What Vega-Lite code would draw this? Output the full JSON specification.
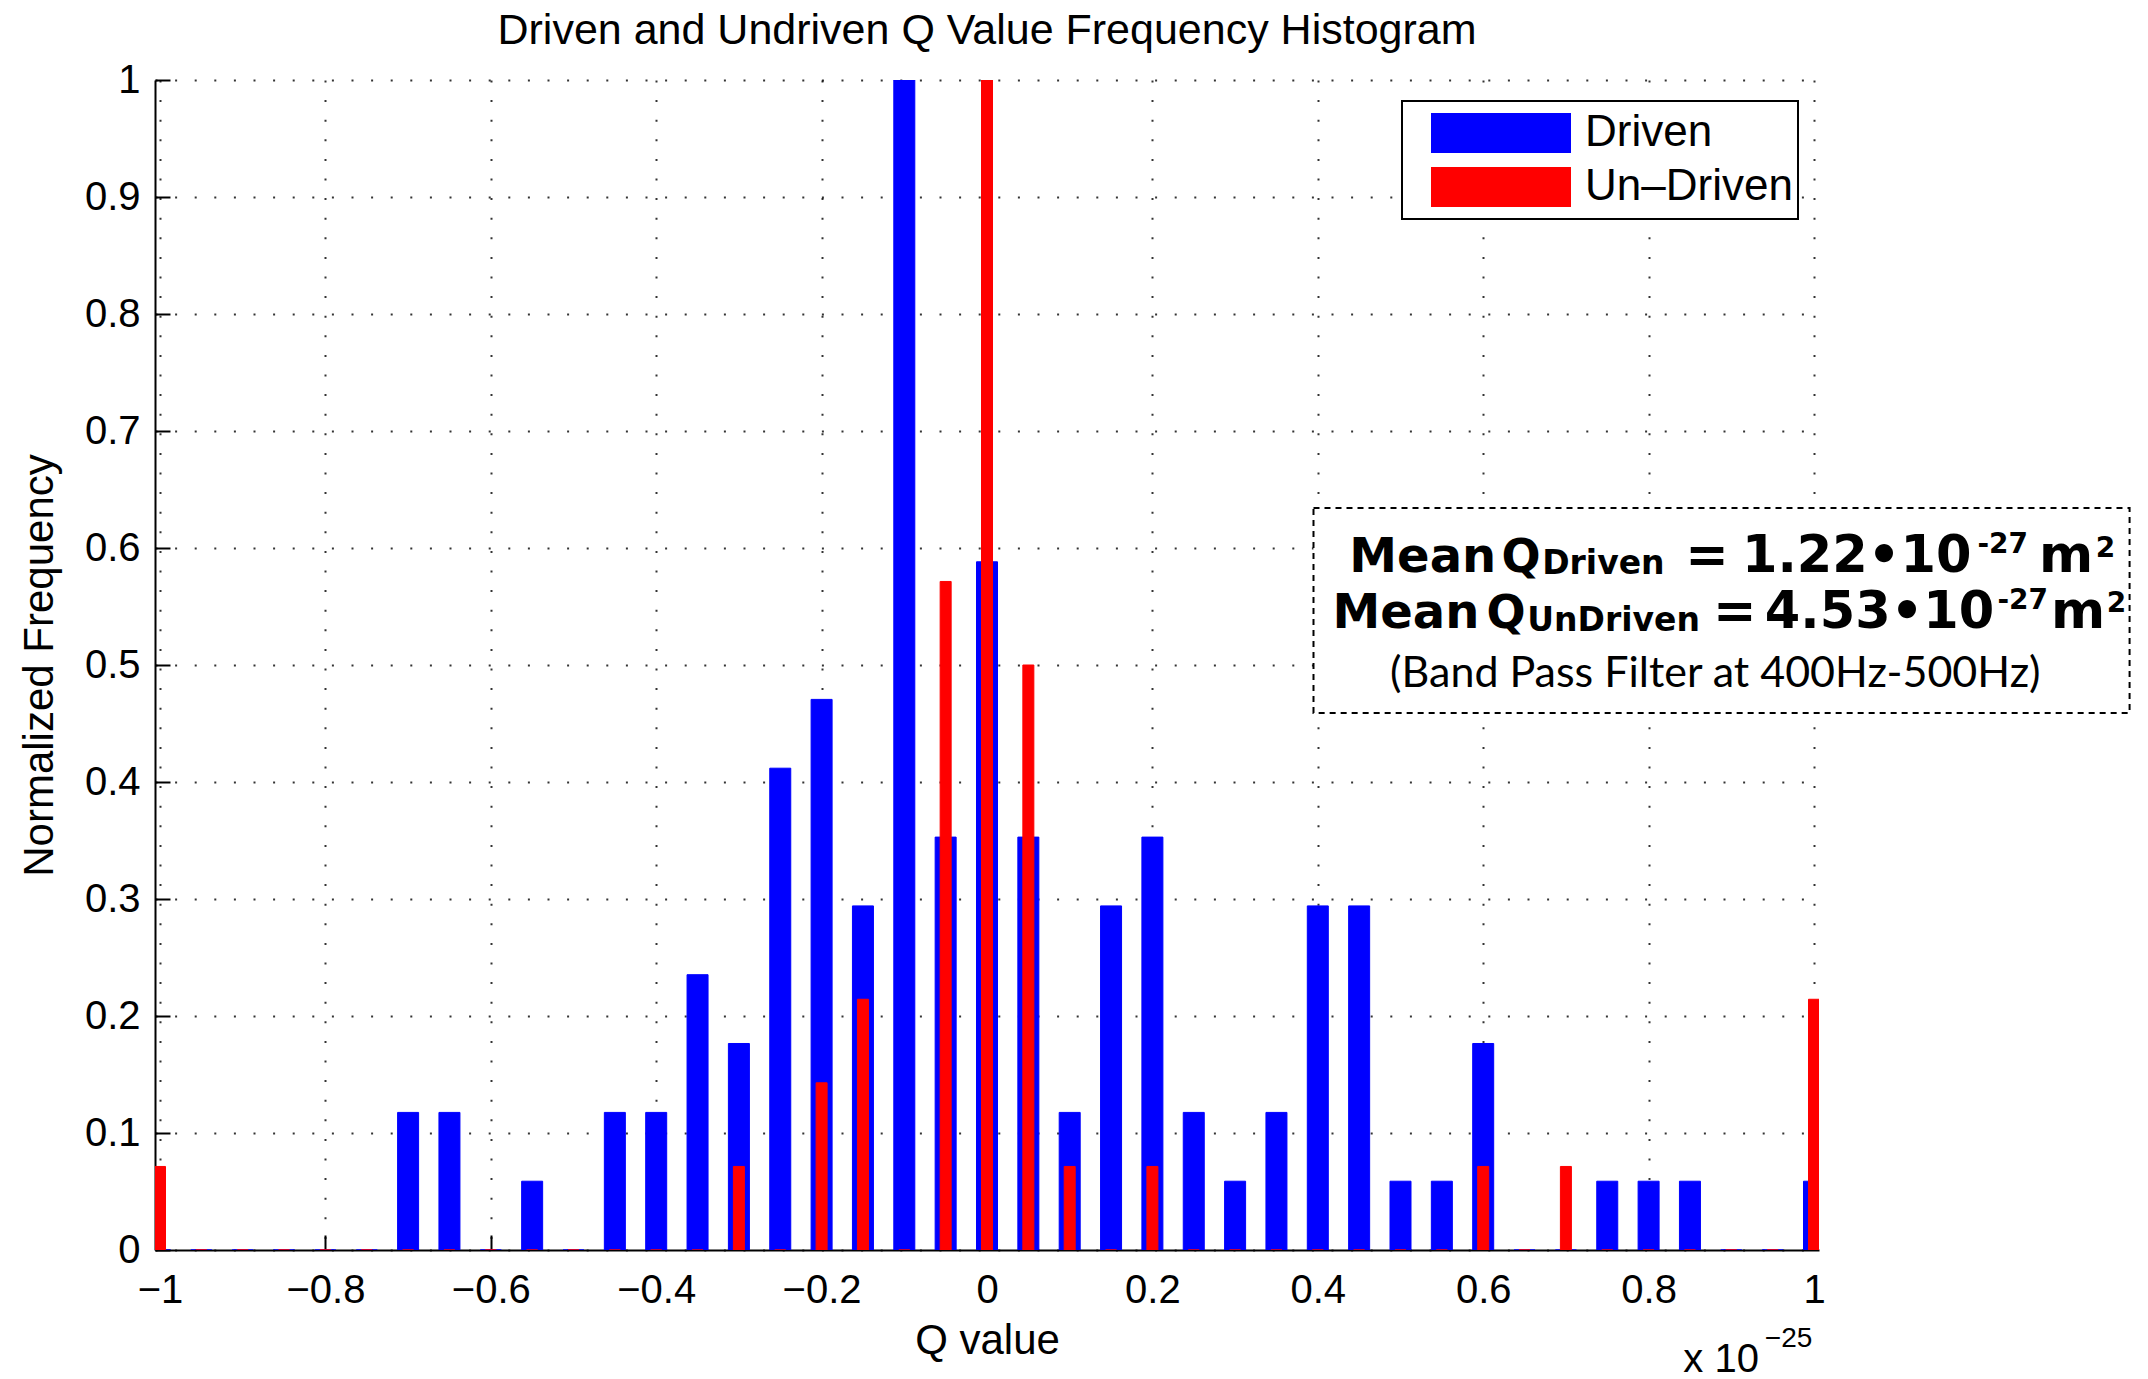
{
  "$schema": "https://vega.github.io/schema/vega-lite/v6.json",
  "width": 1664,
  "height": 1170,
  "autosize": {"type": "none"},
  "padding": {"left": 155, "top": 80, "right": 329, "bottom": 129},
  "background": "white",
  "title": {"text": "Driven and Undriven Q Value Frequency Histogram", "font": "Liberation Sans", "fontSize": 43, "fontWeight": "normal", "color": "black", "anchor": "middle", "frame": "group", "offset": 7},
  "datasets": {
    "hist": [
    {"q": -1, "series": "Driven", "freq": 0}, {"q": -0.95, "series": "Driven", "freq": 0}, {"q": -0.9, "series": "Driven", "freq": 0}, {"q": -0.85, "series": "Driven", "freq": 0},
    {"q": -0.8, "series": "Driven", "freq": 0}, {"q": -0.75, "series": "Driven", "freq": 0}, {"q": -0.7, "series": "Driven", "freq": 0.1176}, {"q": -0.65, "series": "Driven", "freq": 0.1176},
    {"q": -0.6, "series": "Driven", "freq": 0}, {"q": -0.55, "series": "Driven", "freq": 0.0588}, {"q": -0.5, "series": "Driven", "freq": 0}, {"q": -0.45, "series": "Driven", "freq": 0.1176},
    {"q": -0.4, "series": "Driven", "freq": 0.1176}, {"q": -0.35, "series": "Driven", "freq": 0.2353}, {"q": -0.3, "series": "Driven", "freq": 0.1765}, {"q": -0.25, "series": "Driven", "freq": 0.4118},
    {"q": -0.2, "series": "Driven", "freq": 0.4706}, {"q": -0.15, "series": "Driven", "freq": 0.2941}, {"q": -0.1, "series": "Driven", "freq": 1}, {"q": -0.05, "series": "Driven", "freq": 0.3529},
    {"q": 0, "series": "Driven", "freq": 0.5882}, {"q": 0.05, "series": "Driven", "freq": 0.3529}, {"q": 0.1, "series": "Driven", "freq": 0.1176}, {"q": 0.15, "series": "Driven", "freq": 0.2941},
    {"q": 0.2, "series": "Driven", "freq": 0.3529}, {"q": 0.25, "series": "Driven", "freq": 0.1176}, {"q": 0.3, "series": "Driven", "freq": 0.0588}, {"q": 0.35, "series": "Driven", "freq": 0.1176},
    {"q": 0.4, "series": "Driven", "freq": 0.2941}, {"q": 0.45, "series": "Driven", "freq": 0.2941}, {"q": 0.5, "series": "Driven", "freq": 0.0588}, {"q": 0.55, "series": "Driven", "freq": 0.0588},
    {"q": 0.6, "series": "Driven", "freq": 0.1765}, {"q": 0.65, "series": "Driven", "freq": 0}, {"q": 0.7, "series": "Driven", "freq": 0}, {"q": 0.75, "series": "Driven", "freq": 0.0588},
    {"q": 0.8, "series": "Driven", "freq": 0.0588}, {"q": 0.85, "series": "Driven", "freq": 0.0588}, {"q": 0.9, "series": "Driven", "freq": 0}, {"q": 0.95, "series": "Driven", "freq": 0},
    {"q": 1, "series": "Driven", "freq": 0.0588},
    {"q": -1, "series": "Un–Driven", "freq": 0.0714}, {"q": -0.95, "series": "Un–Driven", "freq": 0}, {"q": -0.9, "series": "Un–Driven", "freq": 0}, {"q": -0.85, "series": "Un–Driven", "freq": 0},
    {"q": -0.8, "series": "Un–Driven", "freq": 0}, {"q": -0.75, "series": "Un–Driven", "freq": 0}, {"q": -0.7, "series": "Un–Driven", "freq": 0}, {"q": -0.65, "series": "Un–Driven", "freq": 0},
    {"q": -0.6, "series": "Un–Driven", "freq": 0}, {"q": -0.55, "series": "Un–Driven", "freq": 0}, {"q": -0.5, "series": "Un–Driven", "freq": 0}, {"q": -0.45, "series": "Un–Driven", "freq": 0},
    {"q": -0.4, "series": "Un–Driven", "freq": 0}, {"q": -0.35, "series": "Un–Driven", "freq": 0}, {"q": -0.3, "series": "Un–Driven", "freq": 0.0714}, {"q": -0.25, "series": "Un–Driven", "freq": 0},
    {"q": -0.2, "series": "Un–Driven", "freq": 0.1429}, {"q": -0.15, "series": "Un–Driven", "freq": 0.2143}, {"q": -0.1, "series": "Un–Driven", "freq": 0}, {"q": -0.05, "series": "Un–Driven", "freq": 0.5714},
    {"q": 0, "series": "Un–Driven", "freq": 1}, {"q": 0.05, "series": "Un–Driven", "freq": 0.5}, {"q": 0.1, "series": "Un–Driven", "freq": 0.0714}, {"q": 0.15, "series": "Un–Driven", "freq": 0},
    {"q": 0.2, "series": "Un–Driven", "freq": 0.0714}, {"q": 0.25, "series": "Un–Driven", "freq": 0}, {"q": 0.3, "series": "Un–Driven", "freq": 0}, {"q": 0.35, "series": "Un–Driven", "freq": 0},
    {"q": 0.4, "series": "Un–Driven", "freq": 0}, {"q": 0.45, "series": "Un–Driven", "freq": 0}, {"q": 0.5, "series": "Un–Driven", "freq": 0}, {"q": 0.55, "series": "Un–Driven", "freq": 0},
    {"q": 0.6, "series": "Un–Driven", "freq": 0.0714}, {"q": 0.65, "series": "Un–Driven", "freq": 0}, {"q": 0.7, "series": "Un–Driven", "freq": 0.0714}, {"q": 0.75, "series": "Un–Driven", "freq": 0},
    {"q": 0.8, "series": "Un–Driven", "freq": 0}, {"q": 0.85, "series": "Un–Driven", "freq": 0}, {"q": 0.9, "series": "Un–Driven", "freq": 0}, {"q": 0.95, "series": "Un–Driven", "freq": 0},
    {"q": 1, "series": "Un–Driven", "freq": 0.2143}
    ],
    "one": [{"note": 1}]
  },
  "layer": [
    {
      "data": {"name": "hist"},
      "transform": [{"filter": "datum.series === 'Driven'"}],
      "mark": {"type": "bar", "size": 21, "clip": true, "stroke": "#0000ff", "strokeWidth": 1},
      "encoding": {
        "x": {"field": "q", "type": "quantitative", "title": "Q value",
          "scale": {"domain": [-1, 1], "nice": false, "zero": false},
          "axis": {"values": [-1, -0.8, -0.6, -0.4, -0.2, 0, 0.2, 0.4, 0.6, 0.8, 1], "format": "~g", "labelFlush": false, "labelOverlap": false, "labelPadding": 35, "titlePadding": 10, "grid": true}},
        "y": {"field": "freq", "type": "quantitative", "title": "Normalized Frequency",
          "scale": {"domain": [0, 1], "nice": false},
          "axis": {"values": [0, 0.1, 0.2, 0.3, 0.4, 0.5, 0.6, 0.7, 0.8, 0.9, 1], "format": "~g", "labelFlush": false, "labelOverlap": false, "labelPadding": 30, "titlePadding": 23, "grid": true}},
        "color": {"field": "series", "type": "nominal", "title": null,
          "scale": {"domain": ["Driven", "Un–Driven"], "range": ["#0000ff", "#ff0000"]}}
      }
    },
    {
      "data": {"name": "hist"},
      "transform": [{"filter": "datum.series === 'Un–Driven'"}],
      "mark": {"type": "bar", "size": 11, "clip": true, "stroke": "#ff0000", "strokeWidth": 1},
      "encoding": {
        "x": {"field": "q", "type": "quantitative"},
        "y": {"field": "freq", "type": "quantitative"},
        "color": {"field": "series", "type": "nominal", "title": null,
          "scale": {"domain": ["Driven", "Un–Driven"], "range": ["#0000ff", "#ff0000"]}}
      }
    },
    {
      "data": {"name": "one"},
      "mark": {"type": "rect", "fill": "white", "stroke": "black", "strokeWidth": 2, "strokeDash": [6, 5], "clip": false},
      "encoding": {"x": {"datum": 0.3948, "type": "quantitative"}, "x2": {"datum": 1.3816}, "y": {"datum": 0.459, "type": "quantitative"}, "y2": {"datum": 0.6342}}
    },
    {"data": {"name": "one"}, "mark": {"type": "text", "font": "DejaVu Sans", "fontWeight": "bold", "fontSize": 48, "align": "left", "baseline": "alphabetic", "color": "black"},
      "encoding": {"x": {"datum": 0.4381, "type": "quantitative"}, "y": {"datum": 0.5795, "type": "quantitative"}, "text": {"value": "Mean"}}},
    {"data": {"name": "one"}, "mark": {"type": "text", "font": "DejaVu Sans", "fontWeight": "bold", "fontSize": 46, "align": "left", "baseline": "alphabetic", "color": "black"},
      "encoding": {"x": {"datum": 0.622, "type": "quantitative"}, "y": {"datum": 0.5795, "type": "quantitative"}, "text": {"value": "Q"}}},
    {"data": {"name": "one"}, "mark": {"type": "text", "font": "DejaVu Sans", "fontWeight": "bold", "fontSize": 33, "align": "left", "baseline": "alphabetic", "color": "black"},
      "encoding": {"x": {"datum": 0.6713, "type": "quantitative"}, "y": {"datum": 0.5778, "type": "quantitative"}, "text": {"value": "Driven"}}},
    {"data": {"name": "one"}, "mark": {"type": "text", "font": "DejaVu Sans", "fontWeight": "bold", "fontSize": 52, "align": "left", "baseline": "alphabetic", "color": "black"},
      "encoding": {"x": {"datum": 0.8444, "type": "quantitative"}, "y": {"datum": 0.5795, "type": "quantitative"}, "text": {"value": "="}}},
    {"data": {"name": "one"}, "mark": {"type": "text", "font": "DejaVu Sans", "fontWeight": "bold", "fontSize": 51, "align": "left", "baseline": "alphabetic", "color": "black"},
      "encoding": {"x": {"datum": 0.9129, "type": "quantitative"}, "y": {"datum": 0.5795, "type": "quantitative"}, "text": {"value": "1.22•10"}}},
    {"data": {"name": "one"}, "mark": {"type": "text", "font": "DejaVu Sans", "fontWeight": "bold", "fontSize": 28, "align": "left", "baseline": "alphabetic", "color": "black"},
      "encoding": {"x": {"datum": 1.1977, "type": "quantitative"}, "y": {"datum": 0.5957, "type": "quantitative"}, "text": {"value": "-27"}}},
    {"data": {"name": "one"}, "mark": {"type": "text", "font": "DejaVu Sans", "fontWeight": "bold", "fontSize": 52, "align": "left", "baseline": "alphabetic", "color": "black"},
      "encoding": {"x": {"datum": 1.2722, "type": "quantitative"}, "y": {"datum": 0.5795, "type": "quantitative"}, "text": {"value": "m"}}},
    {"data": {"name": "one"}, "mark": {"type": "text", "font": "DejaVu Sans", "fontWeight": "bold", "fontSize": 28, "align": "left", "baseline": "alphabetic", "color": "black"},
      "encoding": {"x": {"datum": 1.3407, "type": "quantitative"}, "y": {"datum": 0.5923, "type": "quantitative"}, "text": {"value": "2"}}},
    {"data": {"name": "one"}, "mark": {"type": "text", "font": "DejaVu Sans", "fontWeight": "bold", "fontSize": 48, "align": "left", "baseline": "alphabetic", "color": "black"},
      "encoding": {"x": {"datum": 0.4177, "type": "quantitative"}, "y": {"datum": 0.5316, "type": "quantitative"}, "text": {"value": "Mean"}}},
    {"data": {"name": "one"}, "mark": {"type": "text", "font": "DejaVu Sans", "fontWeight": "bold", "fontSize": 46, "align": "left", "baseline": "alphabetic", "color": "black"},
      "encoding": {"x": {"datum": 0.604, "type": "quantitative"}, "y": {"datum": 0.5316, "type": "quantitative"}, "text": {"value": "Q"}}},
    {"data": {"name": "one"}, "mark": {"type": "text", "font": "DejaVu Sans", "fontWeight": "bold", "fontSize": 33, "align": "left", "baseline": "alphabetic", "color": "black"},
      "encoding": {"x": {"datum": 0.6533, "type": "quantitative"}, "y": {"datum": 0.5291, "type": "quantitative"}, "text": {"value": "UnDriven"}}},
    {"data": {"name": "one"}, "mark": {"type": "text", "font": "DejaVu Sans", "fontWeight": "bold", "fontSize": 52, "align": "left", "baseline": "alphabetic", "color": "black"},
      "encoding": {"x": {"datum": 0.878, "type": "quantitative"}, "y": {"datum": 0.5316, "type": "quantitative"}, "text": {"value": "="}}},
    {"data": {"name": "one"}, "mark": {"type": "text", "font": "DejaVu Sans", "fontWeight": "bold", "fontSize": 51, "align": "left", "baseline": "alphabetic", "color": "black"},
      "encoding": {"x": {"datum": 0.9405, "type": "quantitative"}, "y": {"datum": 0.5316, "type": "quantitative"}, "text": {"value": "4.53•10"}}},
    {"data": {"name": "one"}, "mark": {"type": "text", "font": "DejaVu Sans", "fontWeight": "bold", "fontSize": 28, "align": "left", "baseline": "alphabetic", "color": "black"},
      "encoding": {"x": {"datum": 1.2218, "type": "quantitative"}, "y": {"datum": 0.5479, "type": "quantitative"}, "text": {"value": "-27"}}},
    {"data": {"name": "one"}, "mark": {"type": "text", "font": "DejaVu Sans", "fontWeight": "bold", "fontSize": 52, "align": "left", "baseline": "alphabetic", "color": "black"},
      "encoding": {"x": {"datum": 1.2867, "type": "quantitative"}, "y": {"datum": 0.5316, "type": "quantitative"}, "text": {"value": "m"}}},
    {"data": {"name": "one"}, "mark": {"type": "text", "font": "DejaVu Sans", "fontWeight": "bold", "fontSize": 28, "align": "left", "baseline": "alphabetic", "color": "black"},
      "encoding": {"x": {"datum": 1.354, "type": "quantitative"}, "y": {"datum": 0.5453, "type": "quantitative"}, "text": {"value": "2"}}},
    {"data": {"name": "one"}, "mark": {"type": "text", "font": "Lato", "fontSize": 43, "align": "left", "baseline": "alphabetic", "color": "black"},
      "encoding": {"x": {"datum": 0.4874, "type": "quantitative"}, "y": {"datum": 0.4812, "type": "quantitative"}, "text": {"value": "(Band Pass Filter at 400Hz-500Hz)"}}},
    {"data": {"name": "one"}, "mark": {"type": "text", "font": "Liberation Sans", "fontSize": 40, "align": "left", "baseline": "alphabetic", "color": "black"},
      "encoding": {"x": {"datum": 0.842, "type": "quantitative"}, "y": {"datum": -0.1043, "type": "quantitative"}, "text": {"value": "x 10"}}},
    {"data": {"name": "one"}, "mark": {"type": "text", "font": "Liberation Sans", "fontSize": 28, "align": "left", "baseline": "alphabetic", "color": "black"},
      "encoding": {"x": {"datum": 0.9405, "type": "quantitative"}, "y": {"datum": -0.083, "type": "quantitative"}, "text": {"value": "−25"}}}
  ],
  "config": {
    "view": {"stroke": null},
    "axis": {"domainColor": "black", "domainWidth": 2, "tickColor": "black", "tickWidth": 2, "tickSize": -15,
      "labelFont": "Liberation Sans", "labelFontSize": 40, "labelColor": "black",
      "titleFont": "Liberation Sans", "titleFontSize": 42, "titleFontWeight": "normal", "titleColor": "black",
      "gridColor": "#000000", "gridDash": [2, 17.6], "gridWidth": 2, "gridOpacity": 0.8},
    "legend": {"orient": "top-right", "offset": 21, "padding": 5, "strokeColor": "black", "strokeWidth": 2, "fillColor": "white",
      "symbolType": "M-3.5,-1H3.5V1H-3.5Z", "symbolSize": 1600, "symbolStrokeWidth": 0, "symbolOpacity": 1, "symbolOffset": 72,
      "labelOffset": 62, "labelFont": "Liberation Sans", "labelFontSize": 44, "labelColor": "black", "labelLimit": 0, "rowPadding": 0, "clipHeight": 54}
  }
}
